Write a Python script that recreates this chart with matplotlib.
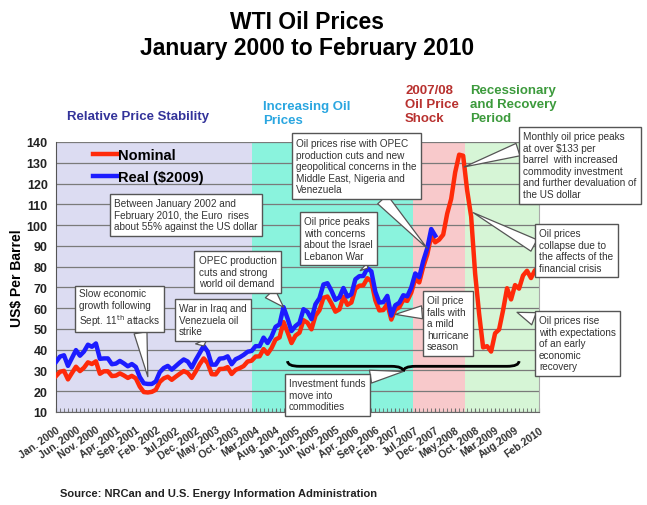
import matplotlib
matplotlib.use("Agg")
import matplotlib.pyplot as plt
from matplotlib.path import Path
from matplotlib.patches import PathPatch
from matplotlib.ticker import MultipleLocator

plt.rcParams['font.family'] = ['Liberation Sans', 'DejaVu Sans']

# WTI monthly price, nominal US$, Jan 2000 .. Feb 2010
nominal = [
    27.3, 29.4, 29.8, 25.7, 28.8, 31.8, 29.7, 31.3, 33.9, 33.1, 34.4, 28.4,
    29.6, 29.6, 27.3, 27.5, 28.6, 27.6, 26.4, 27.4, 26.2, 22.2, 19.6, 19.4,
    19.7, 20.7, 24.5, 26.2, 27.0, 25.5, 27.0, 28.4, 29.7, 28.8, 26.4, 29.5,
    33.0, 35.8, 33.5, 28.2, 28.1, 30.7, 30.8, 31.6, 28.3, 30.3, 31.1, 32.1,
    34.3, 34.7, 36.7, 36.8, 40.3, 38.0, 40.8, 44.9, 45.9, 53.3, 48.5, 43.2,
    46.8, 48.2, 54.2, 53.0, 49.8, 56.4, 59.0, 65.0, 65.6, 62.3, 58.3, 59.4,
    65.5, 61.6, 62.7, 69.4, 70.8, 71.0, 74.4, 73.0, 63.8, 58.9, 59.1, 62.0,
    54.5, 59.3, 60.4, 64.0, 63.5, 67.5, 74.1, 72.4, 79.9, 85.8, 94.8, 91.7,
    93.0, 95.4, 105.5, 112.6, 125.4, 133.9, 133.4, 116.7, 104.1, 76.6, 57.3, 41.1,
    41.7, 39.1, 47.9, 49.7, 59.0, 69.6, 64.2, 71.1, 69.4, 75.7, 78.0, 74.5,
    78.3, 76.4,
]

# real price in 2009 dollars, Jan 2000 .. Dec 2007
real = [
    34.1, 36.7, 37.3, 32.2, 36.0, 39.8, 37.1, 39.1, 42.4, 41.4, 43.0, 35.6,
    35.8, 35.8, 33.0, 33.3, 34.6, 33.4, 32.0, 33.1, 31.7, 26.8, 23.8, 23.5,
    23.5, 24.7, 29.2, 31.2, 32.2, 30.4, 32.1, 33.8, 35.3, 34.3, 31.4, 35.1,
    38.4, 41.8, 39.1, 32.8, 32.8, 35.7, 35.9, 36.8, 33.0, 35.4, 36.3, 37.5,
    39.0, 39.4, 41.7, 41.7, 45.8, 43.2, 46.3, 51.0, 52.2, 60.5, 55.1, 49.0,
    51.4, 52.9, 59.5, 58.2, 54.7, 61.9, 64.8, 71.4, 72.0, 68.4, 64.0, 65.2,
    69.7, 65.6, 66.7, 73.9, 75.4, 75.5, 79.2, 77.7, 67.9, 62.7, 62.9, 65.9,
    56.4, 61.4, 62.6, 66.2, 65.7, 69.9, 76.7, 74.9, 82.7, 88.8, 98.1, 94.9,
]

tick_months = [0, 5, 10, 15, 20, 25, 30, 35, 40, 45, 50, 55, 60,
               65, 70, 75, 80, 85, 90, 95, 100, 105, 110, 115, 121]
tick_labels = ['Jan. 2000', 'Jun. 2000', 'Nov. 2000', 'Apr. 2001', 'Sep. 2001',
               'Feb. 2002', 'Jul.2002', 'Dec. 2002', 'May. 2003', 'Oct. 2003',
               'Mar.2004', 'Aug. 2004', 'Jan. 2005', 'Jun. 2005', 'Nov. 2005',
               'Apr. 2006', 'Sep. 2006', 'Feb. 2007', 'Jul.2007', 'Dec. 2007',
               'May.2008', 'Oct. 2008', 'Mar.2009', 'Aug.2009', 'Feb.2010']

# period boundaries (month index)
period_edges = [0, 49, 89.5, 102.5, 121]
period_colors = ['#dcdcf2', '#8af3dd', '#f8c9cb', '#d6f5d6']

W, H = 647, 506


def fpos(px, py):
    return px / W, 1 - py / H


fig = plt.figure(figsize=(W / 100, H / 100), dpi=100)
ax = fig.add_axes([56 / W, 1 - 413 / H, 483 / W, 270 / H])

for i, c in enumerate(period_colors):
    ax.axvspan(period_edges[i], period_edges[i + 1], color=c, lw=0, zorder=0)

ax.set_xlim(0, 121)
ax.set_ylim(10, 140)
ax.set_yticks(range(10, 141, 10))
ax.yaxis.grid(True, color='#7a7a7a', lw=0.9)
ax.set_axisbelow(True)

months = list(range(len(nominal)))
ax.plot(months, nominal, color='#ff2a0a', lw=3.2, label='Nominal', zorder=3)
ax.plot(months[:len(real)], real, color='#1c1cff', lw=3.2, label='Real ($2009)', zorder=4)

ax.set_xticks(tick_months)
ax.set_xticklabels(tick_labels, rotation=35, ha='right', rotation_mode='anchor',
                   fontsize=7.5, fontweight='bold', color='#333333')
ax.xaxis.set_minor_locator(MultipleLocator(1))
ax.tick_params(axis='x', which='both', direction='in', length=3, color='#666666', pad=9)
ax.tick_params(axis='y', length=0, labelsize=9, pad=6)
for lab in ax.get_yticklabels():
    lab.set_fontweight('bold')
    lab.set_color('#222222')

ax.spines['top'].set_visible(False)
ax.spines['right'].set_color('#aaaaaa')
ax.spines['left'].set_color('#555555')
ax.spines['bottom'].set_color('#666666')

ax.set_ylabel('US$ Per Barrel', fontsize=10, fontweight='bold', labelpad=2)

leg = ax.legend(loc='upper left', bbox_to_anchor=(0.05, 1.025), frameon=False,
                handlelength=1.6, handletextpad=0.1, labelspacing=0.55,
                prop={'size': 10.5, 'weight': 'bold'})

# brace under 2004-2009 run-up
x0, xc, x1 = 58, 87, 116
ye, ym, yt = 34.5, 32, 29.5
verts = [(x0, ye), (x0, ym), (x0 + 3, ym), (xc - 3, ym), (xc, ym), (xc, yt),
         (xc, ym), (xc + 3, ym), (x1 - 3, ym), (x1, ym), (x1, ye)]
codes = [Path.MOVETO, Path.CURVE3, Path.CURVE3, Path.LINETO, Path.CURVE3, Path.CURVE3,
         Path.CURVE3, Path.CURVE3, Path.LINETO, Path.CURVE3, Path.CURVE3]
ax.add_patch(PathPatch(Path(verts, codes), fc='none', ec='black', lw=2, zorder=5))

# titles
fig.text(307 / W, 1 - 11 / H, 'WTI Oil Prices\nJanuary 2000 to February 2010',
         ha='center', va='top', fontsize=16.5, fontweight='bold', linespacing=1.15)
fig.text(*fpos(67, 117), 'Relative Price Stability', ha='left', va='center',
         fontsize=9.5, fontweight='bold', color='#33339a')
fig.text(*fpos(263, 101), 'Increasing Oil\nPrices', ha='left', va='top',
         fontsize=9.5, fontweight='bold', color='#2aa6e0')
fig.text(*fpos(405, 85), '2007/08\nOil Price\nShock', ha='left', va='top',
         fontsize=9.5, fontweight='bold', color='#b8312f')
fig.text(*fpos(470, 85), 'Recessionary\nand Recovery\nPeriod', ha='left', va='top',
         fontsize=9.5, fontweight='bold', color='#3c9a3c')
fig.text(*fpos(60, 494), 'Source: NRCan and U.S. Energy Information Administration',
         ha='left', va='center', fontsize=8, fontweight='bold', color='#222222')

box = dict(boxstyle='square,pad=0.45', fc='white', ec='#555555', lw=1)


def callout(text, tip, left, top, relpos):
    arrow = dict(arrowstyle='wedge,tail_width=1.3,shrink_factor=0.5', fc='white',
                 ec='#555555', lw=0.9, relpos=relpos, shrinkA=0, shrinkB=0)
    ax.annotate(text, xy=tip, xycoords='data', xytext=fpos(left + 4, top + 4),
                textcoords='figure fraction', ha='left', va='top', fontsize=7.2,
                color='#333333', bbox=box, arrowprops=arrow, zorder=6,
                annotation_clip=False)


fig.text(*fpos(114, 199), 'Between January 2002 and\nFebruary 2010, the Euro  rises\n'
         'about 55% against the US dollar', ha='left', va='top', fontsize=7.2,
         color='#333333', bbox=box)

callout('Oil prices rise with OPEC\nproduction cuts and new\ngeopolitical concerns in the\n'
        'Middle East, Nigeria and\nVenezuela', (93, 88.8), 292, 135, (0.68, 0))
callout('Oil price peaks\nwith concerns\nabout the Israel\nLebanon War',
        (78, 79.2), 300, 213, (0.8, 0))
callout('OPEC production\ncuts and strong\nworld oil demand', (57, 60.5), 195, 252, (0.85, 0))
callout('Slow economic\ngrowth following\nSept. 11$^{\\mathrm{th}}$ attacks',
        (23, 27), 75, 285, (0.75, 0))
callout('War in Iraq and\nVenezuela oil\nstrike', (37, 41.8), 175, 300, (0.3, 0))
callout('Investment funds\nmove into\ncommodities', (87, 29.5), 285, 375, (0.95, 1))
callout('Oil price\nfalls with\na mild\nhurricane\nseason', (85, 57), 423, 292, (0, 0.7))
callout('Monthly oil price peaks\nat over $133 per\nbarrel  with increased\n'
        'commodity investment\nand further devaluation of\nthe US dollar',
        (102.3, 128), 519, 128, (0, 0.75))
callout('Oil prices\ncollapse due to\nthe affects of the\nfinancial crisis',
        (104.5, 106), 535, 225, (0, 0.55))
callout('Oil prices rise\nwith expectations\nof an early\neconomic\nrecovery',
        (115.5, 58), 535, 312, (0, 0.9))

fig.savefig('out.png', dpi=100)
